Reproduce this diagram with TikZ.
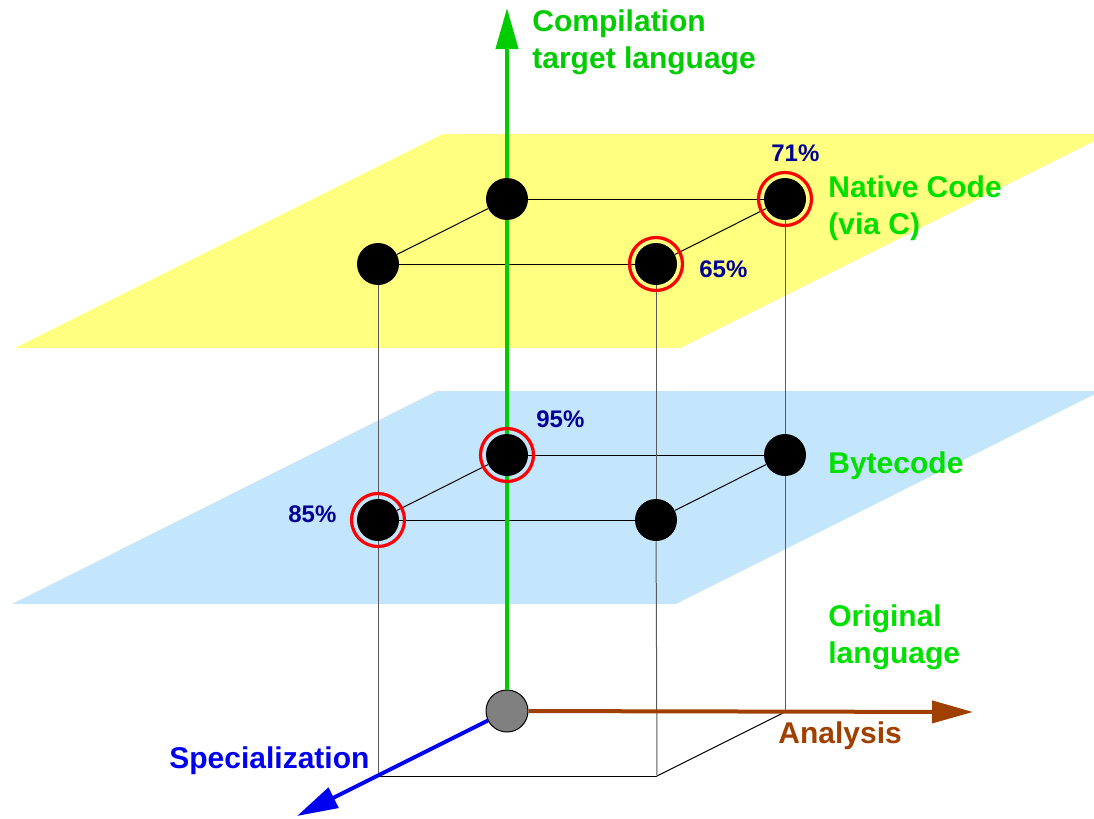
\documentclass[tikz,border=0pt]{standalone}
\usepackage{fontspec}
\setmainfont{Liberation Sans}
\usetikzlibrary{arrows.meta}

\definecolor{planeyellow}{RGB}{255,255,128}
\definecolor{planeblue}{RGB}{196,230,252}
\definecolor{axisgreen}{RGB}{0,204,0}
\definecolor{labelgreen}{RGB}{0,224,0}
\definecolor{axisbrown}{RGB}{160,64,0}
\definecolor{axisblue}{RGB}{0,0,240}
\definecolor{pctblue}{RGB}{0,0,150}
\definecolor{edgegray}{RGB}{90,90,90}

\begin{document}
\begin{tikzpicture}[x=0.5pt,y=-0.5pt,
        axis/.style={line width=2pt,-{Triangle[length=20.5pt,width=11pt]}},
        big/.style={font=\bfseries\fontsize{15}{18.5}\selectfont,align=left,inner sep=0pt},
        pct/.style={font=\bfseries\fontsize{12}{14}\selectfont,text=pctblue,inner sep=0pt}]

            \useasboundingbox (0,0) rectangle (1094,819);

            % the two planes
            \begin{scope}
                \clip (0,0) rectangle (1094,819);
                \fill[planeyellow] (15,348) -- (443,134) -- (1108,134) -- (680,348) -- cycle;
                \fill[planeblue] (12,604) -- (437,391) -- (1101,391) -- (676,604) -- cycle;
            \end{scope}

            \begin{scope}[every node/.style={circle, fill=black, minimum size=21pt, inner sep=0pt}]

                \node (1) at (507,199) {};
                \node (2) at (785,199) {};
                \node (3) at (656,264) {};
                \node (4) at (378,264) {};

                \node (a) at (507,455) {};
                \node (b) at (785,455) {};
                \node (c) at (656,520) {};
                \node (d) at (378,520) {};

                \node[fill=gray, draw=black, line width=0.5pt] (o) at (507,711) {};
            \end{scope}

            \coordinate (e) at (378,776);
            \coordinate (f) at (657,776);
            \coordinate (g) at (785,712);
            \coordinate (up) at (507,8);
            \coordinate (right) at (973,712);
            \coordinate (front) at (297,816);

            \path[draw, line width=0.5pt] (1) edge (2);
            \path[draw, line width=0.5pt] (4) edge (3);
            \path[draw, line width=0.5pt] (1) edge (4);
            \path[draw, line width=0.5pt] (2) edge (3);

            \path[draw, line width=0.5pt] (a) edge (b);
            \path[draw, line width=0.5pt] (d) edge (c);
            \path[draw, line width=0.5pt] (a) edge (d);
            \path[draw, line width=0.5pt] (b) edge (c);

            \path[draw, line width=0.5pt] (e) edge (f);
            \path[draw, line width=0.5pt] (f) edge (g);

            \path[draw=edgegray, line width=0.5pt] (4) edge (d);
            \path[draw=edgegray, line width=0.5pt] (d) edge (e);
            \path[draw=edgegray, line width=0.5pt] (3) edge (c);
            \path[draw=edgegray, line width=0.5pt] (c) edge (f);
            \path[draw=edgegray, line width=0.5pt] (2) edge (b);
            \path[draw=edgegray, line width=0.5pt] (b) edge (g);

            % axes
            \path[draw=axisgreen, line width=2pt] (o) edge (a);
            \path[draw=axisgreen, line width=2pt] (a) edge (1);
            \draw[axis, axisgreen] (1) -- (up);
            \draw[axis, axisbrown] (o) -- (right);
            \draw[axis, axisblue] (o) -- (front);

            % best results
            \draw[red, line width=1.6pt] (2) circle (13.25pt);
            \draw[red, line width=1.6pt] (3) circle (13.25pt);
            \draw[red, line width=1.6pt] (a) circle (13.25pt);
            \draw[red, line width=1.6pt] (d) circle (13.25pt);

            \node[pct, anchor=base west] (p2) at (771,161) {71\%};
            \node[pct, anchor=base west] (p3) at (699,277) {65\%};
            \node[pct, anchor=base west] (pa) at (536,427) {95\%};
            \node[pct, anchor=base west] (pd) at (288,522) {85\%};

            \node[big, text=axisgreen, anchor=west] (comp) at (532,42) {Compilation\\target language};
            \node[big, text=labelgreen, anchor=west] (native) at (828,208) {Native Code\\(via C)};
            \node[big, text=labelgreen, anchor=base west] (byte) at (828,473) {Bytecode};
            \node[big, text=labelgreen, anchor=west] (orig) at (828,637) {Original\\language};
            \node[big, text=axisbrown, anchor=base west] (ana) at (778,743) {Analysis};
            \node[big, text=axisblue, anchor=base west] (spec) at (169,768) {Specialization};
        \end{tikzpicture}
\end{document}
